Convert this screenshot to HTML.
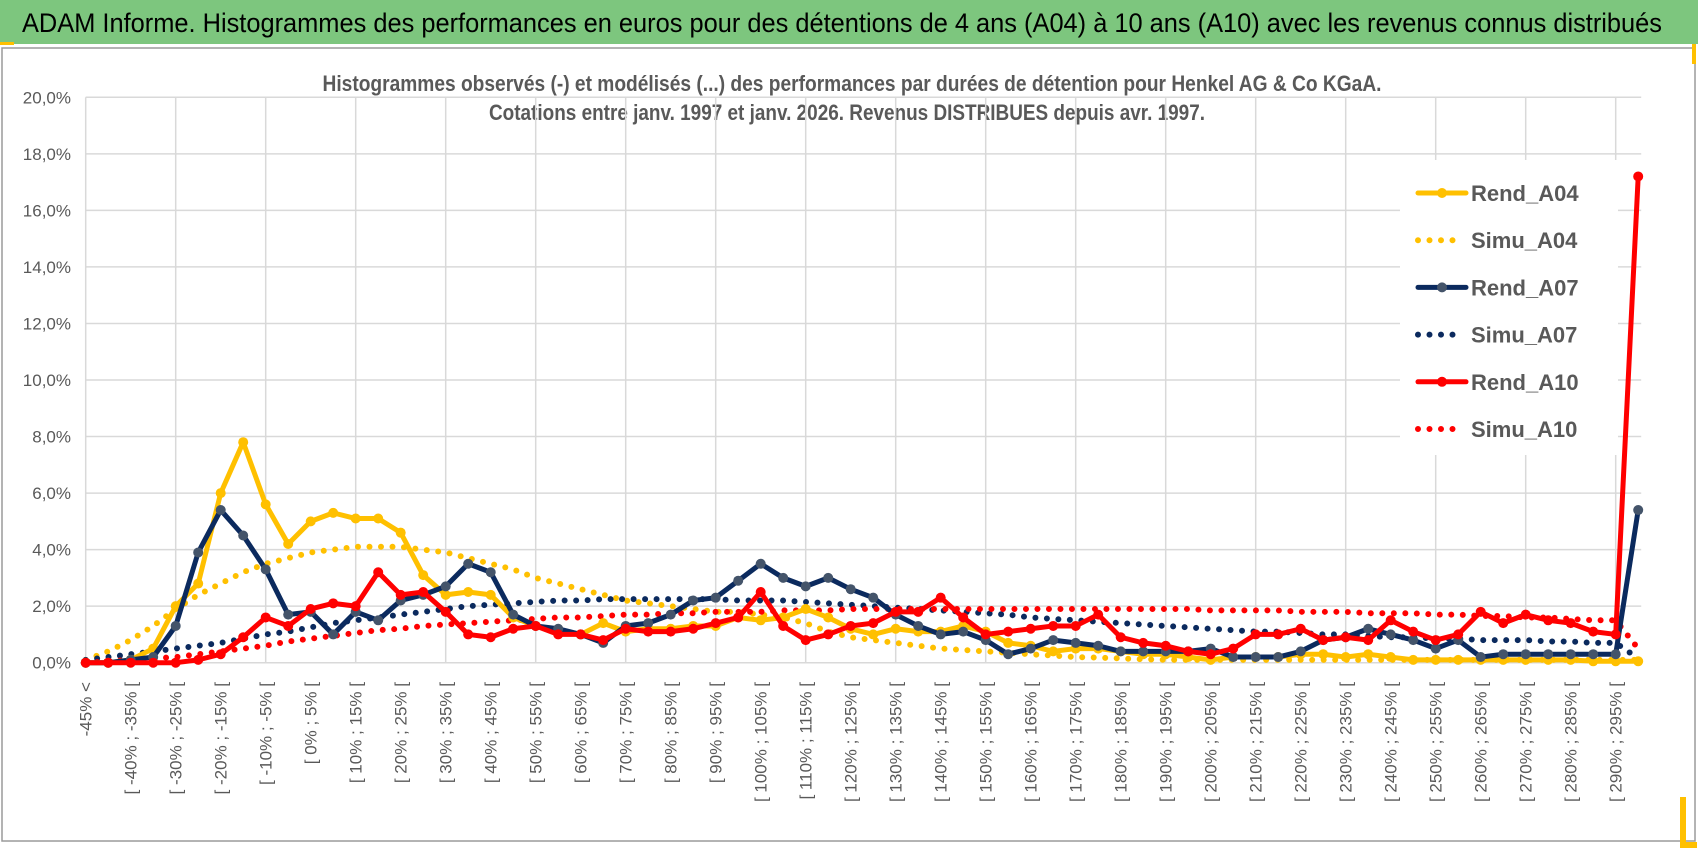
<!DOCTYPE html>
<html><head><meta charset="utf-8"><style>
html,body{margin:0;padding:0;background:#fff}
body{width:1698px;height:854px;overflow:hidden;position:relative;font-family:"Liberation Sans Narrow","Liberation Sans",sans-serif}
</style></head><body>
<svg id="chart" width="1698" height="854" viewBox="0 0 1698 854" xmlns="http://www.w3.org/2000/svg" style="position:absolute;left:0;top:0">
<rect x="0" y="0" width="1698" height="44" fill="#7DC67E"/>
<text x="22" y="32" font-size="27" fill="#000" textLength="1640" lengthAdjust="spacingAndGlyphs" font-family="Liberation Sans Narrow, Liberation Sans, sans-serif">ADAM Informe. Histogrammes des performances en euros pour des détentions de 4 ans (A04) à 10 ans (A10) avec les revenus connus distribués</text>
<rect x="0" y="42" width="14" height="3" fill="#FFC000"/>
<rect x="2" y="48" width="1693" height="793" fill="#fff" stroke="#9a9a9a" stroke-width="1.5"/>
<rect x="1680" y="797" width="6" height="48" fill="#FFC000"/>
<rect x="1680" y="842" width="17" height="6" fill="#FFC000"/>
<rect x="1692" y="44" width="4" height="20" fill="#FFC000"/>
<text x="852" y="91" font-size="22" font-weight="bold" fill="#595959" text-anchor="middle" textLength="1059" lengthAdjust="spacingAndGlyphs">Histogrammes observés (-) et modélisés (...) des performances par durées de détention pour Henkel AG &amp; Co KGaA.</text>
<text x="847" y="120" font-size="22" font-weight="bold" fill="#595959" text-anchor="middle" textLength="716" lengthAdjust="spacingAndGlyphs">Cotations entre janv. 1997 et janv. 2026. Revenus DISTRIBUES depuis avr. 1997.</text>
<g id="grid"></g><g id="yaxis"></g><g id="xaxis"></g><g id="legendbg"></g><g id="series"></g><g id="legend"></g>
</svg>
<script>
const NS="http://www.w3.org/2000/svg";
const yTicks=[0,2,4,6,8,10,12,14,16,18,20];
const rendA04=[0,0,0.1,0.5,2.0,2.8,6.0,7.8,5.6,4.2,5.0,5.3,5.1,5.1,4.6,3.1,2.4,2.5,2.4,1.6,1.3,1.1,1.0,1.4,1.1,1.2,1.2,1.3,1.3,1.6,1.5,1.6,1.9,1.6,1.2,1.0,1.2,1.1,1.1,1.3,1.1,0.7,0.6,0.4,0.5,0.5,0.4,0.3,0.3,0.2,0.1,0.2,0.2,0.2,0.3,0.3,0.2,0.3,0.2,0.1,0.1,0.1,0.1,0.1,0.1,0.1,0.1,0.05,0.05,0.05];
const simuA04=[0.1,0.4,0.8,1.3,1.9,2.4,2.8,3.2,3.5,3.7,3.9,4.0,4.1,4.1,4.1,4.0,3.9,3.7,3.5,3.3,3.0,2.8,2.6,2.4,2.2,2.1,2.0,1.9,1.8,1.8,1.7,1.6,1.4,1.1,0.9,0.8,0.7,0.6,0.5,0.45,0.4,0.35,0.3,0.25,0.2,0.18,0.15,0.12,0.1,0.1,0.1,0.1,0.1,0.1,0.1,0.1,0.1,0.1,0.1,0.1,0.1,0.1,0.1,0.1,0.1,0.1,0.1,0.1,0.1,0.1];
const rendA07=[0,0,0.1,0.2,1.3,3.9,5.4,4.5,3.3,1.7,1.8,1.0,1.8,1.5,2.2,2.4,2.7,3.5,3.2,1.7,1.3,1.2,1.0,0.7,1.3,1.4,1.7,2.2,2.3,2.9,3.5,3.0,2.7,3.0,2.6,2.3,1.7,1.3,1.0,1.1,0.8,0.3,0.5,0.8,0.7,0.6,0.4,0.4,0.4,0.4,0.5,0.2,0.2,0.2,0.4,0.8,0.9,1.2,1.0,0.8,0.5,0.8,0.2,0.3,0.3,0.3,0.3,0.3,0.3,5.4];
const simuA07=[0.1,0.2,0.3,0.4,0.5,0.6,0.7,0.85,1.0,1.1,1.25,1.4,1.5,1.6,1.7,1.8,1.9,2.0,2.05,2.1,2.15,2.2,2.2,2.25,2.25,2.25,2.25,2.25,2.25,2.2,2.2,2.2,2.15,2.1,2.05,2.0,1.95,1.9,1.85,1.8,1.75,1.7,1.6,1.55,1.5,1.45,1.4,1.35,1.3,1.25,1.2,1.15,1.1,1.1,1.05,1.0,1.0,0.95,0.9,0.9,0.85,0.85,0.8,0.8,0.8,0.75,0.75,0.7,0.7,0.15];
const rendA10=[0,0,0,0,0,0.1,0.3,0.9,1.6,1.3,1.9,2.1,2.0,3.2,2.4,2.5,1.8,1.0,0.9,1.2,1.3,1.0,1.0,0.8,1.2,1.1,1.1,1.2,1.4,1.6,2.5,1.3,0.8,1.0,1.3,1.4,1.8,1.8,2.3,1.6,1.0,1.1,1.2,1.3,1.3,1.7,0.9,0.7,0.6,0.4,0.3,0.5,1.0,1.0,1.2,0.8,0.9,0.8,1.5,1.1,0.8,1.0,1.8,1.4,1.7,1.5,1.4,1.1,1.0,17.2];
const simuA10=[0,0.05,0.1,0.15,0.2,0.3,0.4,0.5,0.6,0.75,0.85,0.95,1.05,1.15,1.2,1.3,1.35,1.4,1.45,1.5,1.55,1.6,1.6,1.65,1.7,1.7,1.75,1.75,1.8,1.8,1.8,1.85,1.85,1.85,1.9,1.9,1.9,1.9,1.9,1.9,1.9,1.9,1.9,1.9,1.9,1.9,1.9,1.9,1.9,1.9,1.85,1.85,1.85,1.85,1.8,1.8,1.8,1.75,1.75,1.75,1.7,1.7,1.65,1.65,1.6,1.6,1.55,1.5,1.5,0.5];
const categories=["-45% <"];
for(let k=-45;k<=295;k+=5){categories.push("[ "+k+"% ; "+(k+5)+"% [");}

const X0=85.7,DX=22.5,Y0=662.7,DY=28.27;
const xs=i=>X0+DX*i;
const ys=v=>Y0-DY*v;
function mk(tag,attrs,parent){const e=document.createElementNS(NS,tag);for(const k in attrs)e.setAttribute(k,attrs[k]);parent.appendChild(e);return e;}
const grid=document.getElementById('grid'),yax=document.getElementById('yaxis'),xax=document.getElementById('xaxis');
const xEnd=xs(categories.length-1)+3;
yTicks.forEach(t=>{
  const l=mk('line',{x1:X0,x2:xEnd,y1:ys(t),y2:ys(t),stroke:'#d9d9d9','stroke-width':1.5},grid);
  
  
  const tx=mk('text',{x:71,y:ys(t)+6,'font-size':17,fill:'#595959','text-anchor':'end'},yax);
  tx.textContent=t.toFixed(1).replace('.',',')+'%';
  
  
});
for(let i=0;i<categories.length;i+=4){
  const l=mk('line',{x1:xs(i),x2:xs(i),y1:ys(20),y2:Y0,stroke:'#d9d9d9','stroke-width':1.5},grid);
  
  
}
categories.forEach((c,i)=>{
  if(i%2) return;
  const x=xs(i)+6,y=682;
  const tx=mk('text',{x:x,y:y,'font-size':17,fill:'#595959','text-anchor':'end',transform:`rotate(-90 ${x} ${y})`},xax);
  tx.textContent=c;
  
  
});
const lb=mk('rect',{x:1400,y:160,width:218,height:295,fill:'#fff'},document.getElementById('legendbg'));



const sg=document.getElementById('series');
function dotted(data,color,name){
  const p=mk('polyline',{points:data.map((v,i)=>xs(i)+','+ys(v)).join(' '),fill:'none',stroke:color,'stroke-width':6,'stroke-linecap':'round','stroke-dasharray':'0 11.5'},sg);
  
  
}
function solid(data,color,mcolor,name){
  const g=mk('g',{},sg);
  
  
  mk('polyline',{points:data.map((v,i)=>xs(i)+','+ys(v)).join(' '),fill:'none',stroke:color,'stroke-width':5,'stroke-linejoin':'round'},g);
  data.forEach((v,i)=>{
    const c=mk('circle',{cx:xs(i),cy:ys(v),r:5,fill:mcolor},g);
    
    
  });
}
dotted(simuA04,'#FFC000','simu-a04-line');
dotted(simuA07,'#0B2A5E','simu-a07-line');
dotted(simuA10,'#FF0000','simu-a10-line');
solid(rendA04,'#FFC000','#FFC000','rend-a04-line');
solid(rendA07,'#0B2A5E','#44546A','rend-a07-line');
solid(rendA10,'#FF0000','#FF0000','rend-a10-line');

const lg=document.getElementById('legend');
const legendNames=["Rend_A04","Simu_A04","Rend_A07","Simu_A07","Rend_A10","Simu_A10"];
const legendColors=["#FFC000","#FFC000","#0B2A5E","#0B2A5E","#FF0000","#FF0000"];
legendNames.forEach((n,k)=>{
  const y=193+47.2*k;
  const g=mk('g',{},lg);
  
  
  if(k%2===0){
    mk('line',{x1:1418,x2:1466,y1:y,y2:y,stroke:legendColors[k],'stroke-width':5,'stroke-linecap':'round'},g);
    mk('circle',{cx:1442,cy:y,r:5,fill:k===2?'#44546A':legendColors[k]},g);
  } else {
    mk('line',{x1:1418,x2:k===5?1464:1456,y1:y,y2:y,stroke:legendColors[k],'stroke-width':6,'stroke-linecap':'round','stroke-dasharray':'0 11.5'},g);
  }
  const t=mk('text',{x:1471,y:y+8,'font-size':22,'font-weight':'bold',fill:'#595959'},g);
  t.textContent=n;
});
</script>
</body></html>
